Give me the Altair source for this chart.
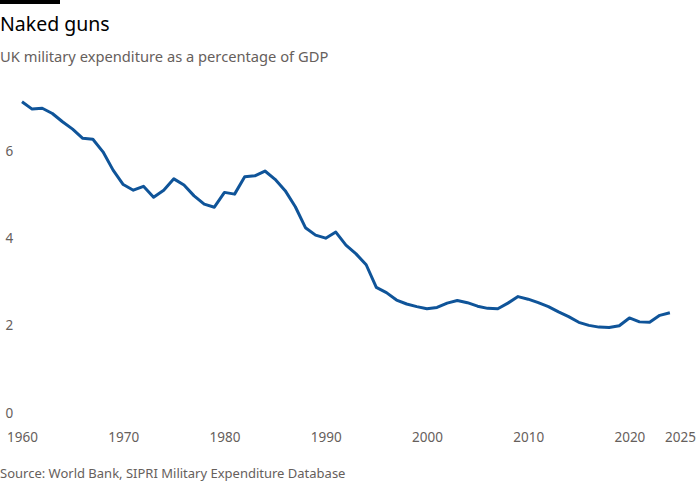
import altair as alt
import pandas as pd

years = list(range(1960, 2025))
spend = [7.14, 6.97, 6.99, 6.87, 6.68, 6.51, 6.30, 6.28, 5.99, 5.57,
         5.24, 5.11, 5.20, 4.95, 5.11, 5.37, 5.23, 4.98, 4.79, 4.72,
         5.06, 5.02, 5.42, 5.44, 5.55, 5.36, 5.10, 4.73, 4.25, 4.08,
         4.01, 4.15, 3.85, 3.65, 3.40, 2.88, 2.76, 2.59, 2.50, 2.44,
         2.39, 2.42, 2.52, 2.58, 2.53, 2.45, 2.40, 2.39, 2.52, 2.67,
         2.61, 2.53, 2.44, 2.32, 2.21, 2.08, 2.01, 1.97, 1.96, 2.00,
         2.18, 2.09, 2.08, 2.24, 2.30]
x_ticks = [1960, 1970, 1980, 1990, 2000, 2010, 2020, 2025]
y_ticks = [0, 2, 4, 6]

title_text = "Naked guns"
subtitle_text = "UK military expenditure as a percentage of GDP"
source_text = "Source: World Bank, SIPRI Military Expenditure Database"

df = pd.DataFrame({"year": years, "pct": spend})

W, H = 658, 327
PL, PT = 22, 86
FONT = "Noto Sans"
GREY = "#66605c"

line = alt.Chart(df).mark_line(color="#0f5499", strokeWidth=3, strokeJoin="round").encode(
    x=alt.X("year:Q",
            scale=alt.Scale(domain=[1960, 2025], nice=False, zero=False),
            axis=alt.Axis(values=x_ticks, format="d", title=None, ticks=False,
                          domain=False, grid=False, labelFontSize=13.5,
                          labelColor=GREY, labelFont=FONT, labelPadding=17,
                          labelFlush=False)),
    y=alt.Y("pct:Q",
            scale=alt.Scale(domain=[0, 7.5], nice=False),
            axis=alt.Axis(values=y_ticks, title=None, ticks=False, domain=False,
                          grid=False, labelAlign="left", labelPadding=17,
                          labelBaseline="middle", labelFontSize=13.5,
                          labelColor=GREY, labelFont=FONT)),
)

one = pd.DataFrame({"k": [0]})

bar = alt.Chart(one).mark_rule(color="#000000", strokeWidth=4).encode(
    x=alt.value(-PL), x2=alt.value(-PL + 60), y=alt.value(-PT + 2))

title = alt.Chart(one).mark_text(
    text=title_text, align="left", baseline="alphabetic", fontSize=19.5,
    font=FONT, color="#000000").encode(x=alt.value(-PL), y=alt.value(-PT + 31))

subtitle = alt.Chart(one).mark_text(
    text=subtitle_text, align="left", baseline="alphabetic", fontSize=14.7,
    font=FONT, color=GREY).encode(x=alt.value(-PL), y=alt.value(-PT + 62))

source = alt.Chart(one).mark_text(
    text=source_text, align="left", baseline="alphabetic", fontSize=13,
    font=FONT, color=GREY).encode(x=alt.value(-PL), y=alt.value(H + 65))

chart = alt.layer(line, bar, title, subtitle, source).properties(
    width=W, height=H,
    autosize=alt.AutoSizeParams(type="none"),
    padding={"left": PL, "top": PT, "right": 20, "bottom": 87},
    background="white",
).configure_view(stroke=None)

chart.save("out.html", embed_options={"renderer": "svg", "actions": False})
